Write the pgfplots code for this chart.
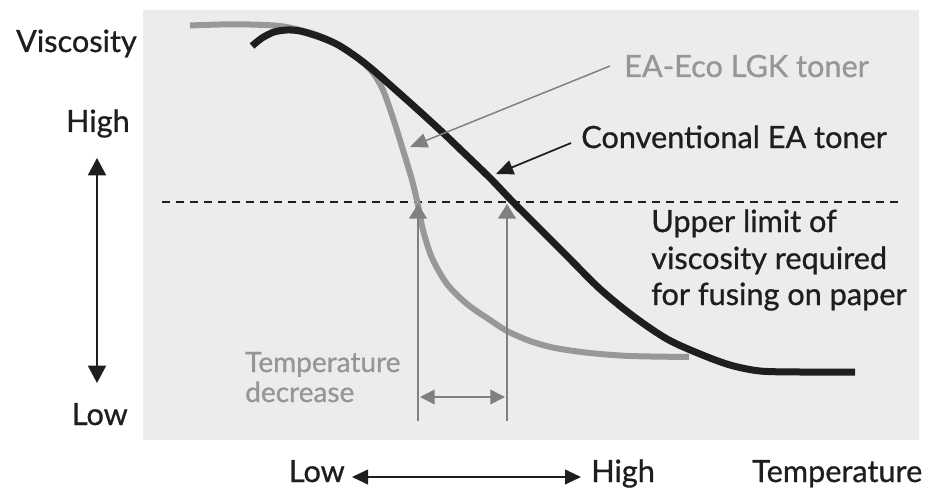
\documentclass[border=0pt]{standalone}
\usepackage{pgfplots}
\pgfplotsset{compat=1.18}
\usepackage{fontspec}
\setmainfont{Lato}[FakeBold=0.8]
\usetikzlibrary{arrows.meta}
\definecolor{bgbox}{RGB}{236,236,238}
\definecolor{ecogray}{RGB}{152,152,154}
\definecolor{arrgray}{RGB}{128,128,130}
\definecolor{txtgray}{RGB}{150,150,152}
\definecolor{txtblack}{RGB}{30,30,30}
\begin{document}
\begin{tikzpicture}
\begin{axis}[
  scale only axis, width=696pt, height=365.25pt,
  xmin=0, xmax=928, ymin=0, ymax=487, y dir=reverse,
  hide axis, clip=false,
]
\path (axis cs:0,0) rectangle (axis cs:928,487);
% background box
\addplot[fill=bgbox, draw=none] coordinates {(143,10) (919,10) (919,440) (143,440)} -- cycle;
% dashed limit line
\addplot[txtblack, line width=1pt, dash pattern=on 6pt off 4.5pt] coordinates {(162,202) (900,202)};
% EA-Eco LGK toner
\addplot[ecogray, line width=4.5pt, smooth, tension=0.5] coordinates {
(190,25.5) (220,24.5) (250,24.5) (280,26) (300,30) (320,36) (340,46) (360,60) (373,73)
(383,90) (393,118) (403,150) (412,180) (418,205) (423,230) (432,258) (447,284) (467,304)
(490,320) (507,331) (530,341) (555,348) (590,353) (630,356) (689,357)};
% Conventional EA toner
\addplot[txtblack, line width=5.25pt, smooth, tension=0.5] coordinates {
(252,46) (262,38) (274,32) (287,30) (300,31) (320,37) (340,46) (367,65) (407,100) (440,130)
(463,152) (490,178) (511,200) (533,222) (567,256) (600,289) (633,316) (667,339) (700,354)
(730,365) (760,371) (800,372) (855,372)};
% vertical gray arrows
\addplot[arrgray, line width=1.1pt, -{Triangle[width=13.5pt,length=11pt]}] coordinates {(418,421) (418,204)};
\addplot[arrgray, line width=1.1pt, -{Triangle[width=13.5pt,length=11pt]}] coordinates {(507,421) (507,204)};
% horizontal double arrow
\addplot[arrgray, line width=1.1pt, {Triangle[width=11pt,length=11pt]}-{Triangle[width=11pt,length=11pt]}] coordinates {(420,397) (505,397)};
% pointers
\addplot[arrgray, line width=1.1pt, -{Triangle[width=11pt,length=13pt]}] coordinates {(610,66) (410,147)};
\addplot[txtblack, line width=1.3pt, -{Triangle[width=11pt,length=13pt]}] coordinates {(571,143) (496,174)};
% left vertical arrow
\addplot[txtblack, line width=1.5pt, {Triangle[width=13.5pt,length=13pt]}-{Triangle[width=13.5pt,length=13pt]}] coordinates {(97,158) (97,383)};
% bottom arrow
\addplot[txtblack, line width=1.5pt, {Triangle[width=11pt,length=12pt]}-{Triangle[width=11pt,length=12pt]}] coordinates {(352,477) (581,477)};
% texts
\begin{scope}[every node/.style={inner sep=0pt, text=txtblack, font=\fontsize{23}{27}\selectfont}]
\node[anchor=base east] at (axis cs:137,52) {Viscosity};
\node[anchor=base east] at (axis cs:130,132) {High};
\node[anchor=base east] at (axis cs:128,425) {Low};
\node[anchor=base east] at (axis cs:345,482) {Low};
\node[anchor=base west] at (axis cs:591,482) {High};
\node[anchor=base west] at (axis cs:752,482) {Temperature};
\node[anchor=base west, text=txtgray] at (axis cs:624,77) {EA-Eco LGK toner};
\node[anchor=base west] at (axis cs:581,148) {Conventional EA toner};
\node[anchor=base west] at (axis cs:651,232) {Upper limit of};
\node[anchor=base west] at (axis cs:651,269) {viscosity required};
\node[anchor=base west] at (axis cs:651,305) {for fusing on paper};
\node[anchor=base west, text=txtgray, font=\fontsize{21}{24}\selectfont] at (axis cs:245,372) {Temperature};
\node[anchor=base west, text=txtgray, font=\fontsize{21}{24}\selectfont] at (axis cs:245,402) {decrease};
\end{scope}
\end{axis}
\end{tikzpicture}
\end{document}
